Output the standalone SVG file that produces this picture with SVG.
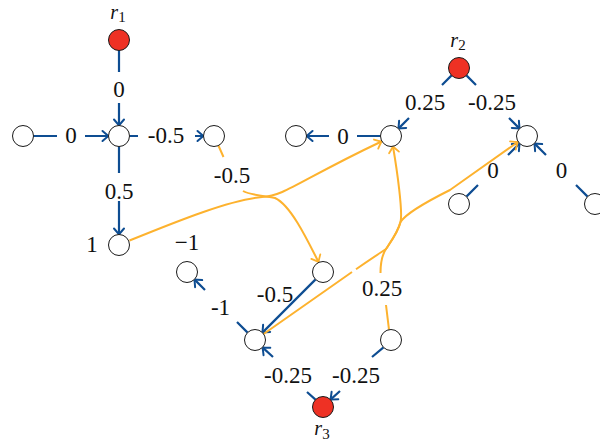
<svg xmlns="http://www.w3.org/2000/svg" width="600" height="448" viewBox="0 0 600 448">
<style>
.n{fill:#fff;stroke:#1a1a1a;stroke-width:1}
.r{fill:#EE3124;stroke:#1a1a1a;stroke-width:1}
.b{fill:none;stroke:#0E4D92;stroke-width:2.2}
.o{fill:none;stroke:#FDB22E;stroke-width:2}
.b{marker-end:url(#ab)}
.o{marker-end:url(#ao)}
text{font-family:"Liberation Serif","Times New Roman",serif;font-size:23px;fill:#111;text-anchor:middle}
.rl{font-size:20px}
.it{font-style:italic}
.sub{font-size:15px;font-style:normal}
</style>
<defs>
<marker id="ab" markerUnits="userSpaceOnUse" viewBox="-8 -7 10 14" markerWidth="10" markerHeight="14" refX="0" refY="0" orient="auto">
<path d="M-6,-5 Q-2,-1.5 0,0 Q-2,1.5 -6,5" fill="none" stroke="#0E4D92" stroke-width="2" stroke-linecap="round"/>
</marker>
<marker id="ao" markerUnits="userSpaceOnUse" viewBox="-8 -7 10 14" markerWidth="10" markerHeight="14" refX="0" refY="0" orient="auto">
<path d="M-6,-5 Q-2,-1.5 0,0 Q-2,1.5 -6,5" fill="none" stroke="#FDB22E" stroke-width="1.8" stroke-linecap="round"/>
</marker>
</defs>

<g id="connectors">
<path class="b" d="M119,50.5 V72 M119,103 V125.5"/>
<path class="b" d="M33.5,136 H57 M85,136 H108.5"/>
<path class="b" d="M129.5,136 H138 M195,136 H203.5"/>
<path class="b" d="M119,146.5 V173 M119,201 V234.5"/>
<path class="b" d="M380.5,136 H357 M329,136 H306.5"/>
<path class="b" d="M451.6,75.4 L442,85 M409,118 L398.4,128.6"/>
<path class="b" d="M466.4,75.4 L476,85 M509,118 L519.6,128.6"/>
<path class="b" d="M466.4,196.6 L478,185 M508,155 L519.6,143.4"/>
<path class="b" d="M587.6,196.6 L576,185 M546,155 L534.4,143.4"/>
<path class="b" d="M247.6,332.6 L237,322 M205,290 L194.4,279.4"/>
<path class="b" d="M315.6,279.4 L262.4,332.6"/>
<path class="b" d="M315.5,399.6 L307,392 M273,357 L262.5,347.4"/>
<path class="b" d="M383.5,347.4 L372,357 M340,391 L330.5,399.6"/>

<path class="o" d="M218.4,145.5 L223.5,157 M243,191 C250,195 264,196 275,198 C290,205 305,235 318.5,262"/>
<path class="o" d="M129.5,240.5 C180,220 230,200 262,197 C285,196 300,180 381.5,141.5"/>
<path class="o" d="M389,329.7 L386,305 M380.5,273 C380.5,262 382,255 386,249 C392,240 398,232 400.5,222 C403,212 397,170 393,146.5"/>
<path class="o" d="M263.6,334 L352,272 M356,269.3 C370,259.5 380,253 386,249 C392,240 398,232 400.5,222 C405,215 420,205 450,190 L517.8,142"/>

<g id="edge-labels">
<text x="119" y="97">0</text>
<text x="71" y="143">0</text>
<text x="166" y="143">-0.5</text>
<text x="119" y="199">0.5</text>
<text x="232" y="183">-0.5</text>
<text x="343" y="144">0</text>
<text x="425" y="110">0.25</text>
<text x="492" y="110">-0.25</text>
<text x="493" y="178">0</text>
<text x="561.5" y="178">0</text>
<text x="220.5" y="315">-1</text>
<text x="275" y="302">-0.5</text>
<text x="382" y="296">0.25</text>
<text x="288" y="383">-0.25</text>
<text x="356" y="383">-0.25</text>
</g>
</g>

<g id="r1"><circle class="r" cx="119" cy="40" r="10.5"/><text class="rl" x="118" y="18.5"><tspan class="it">r</tspan><tspan class="sub" dy="3.5">1</tspan></text></g>
<g id="n1"><circle class="n" cx="23" cy="136" r="10.5"/></g>
<g id="n2"><circle class="n" cx="119" cy="136" r="10.5"/></g>
<g id="n3"><circle class="n" cx="214" cy="136" r="10.5"/></g>
<g id="n4"><circle class="n" cx="119" cy="245" r="10.5"/><text x="92" y="252">1</text></g>
<g id="n5"><circle class="n" cx="296" cy="136" r="10.5"/></g>
<g id="nA"><circle class="n" cx="391" cy="136" r="10.5"/></g>
<g id="r2"><circle class="r" cx="459" cy="68" r="10.5"/><text class="rl" x="458" y="46.5"><tspan class="it">r</tspan><tspan class="sub" dy="3.5">2</tspan></text></g>
<g id="nB"><circle class="n" cx="527" cy="136" r="10.5"/></g>
<g id="nC"><circle class="n" cx="459" cy="204" r="10.5"/></g>
<g id="nD"><circle class="n" cx="595" cy="204" r="10.5"/></g>
<g id="m1"><circle class="n" cx="187" cy="272" r="10.5"/><text x="187" y="250">−1</text></g>
<g id="nE"><circle class="n" cx="323" cy="272" r="10.5"/></g>
<g id="nF"><circle class="n" cx="255" cy="340" r="10.5"/></g>
<g id="nG"><circle class="n" cx="391" cy="340" r="10.5"/></g>
<g id="r3"><circle class="r" cx="323" cy="407" r="10.5"/><text class="rl" x="322" y="435"><tspan class="it">r</tspan><tspan class="sub" dy="3.5">3</tspan></text></g>
</svg>
